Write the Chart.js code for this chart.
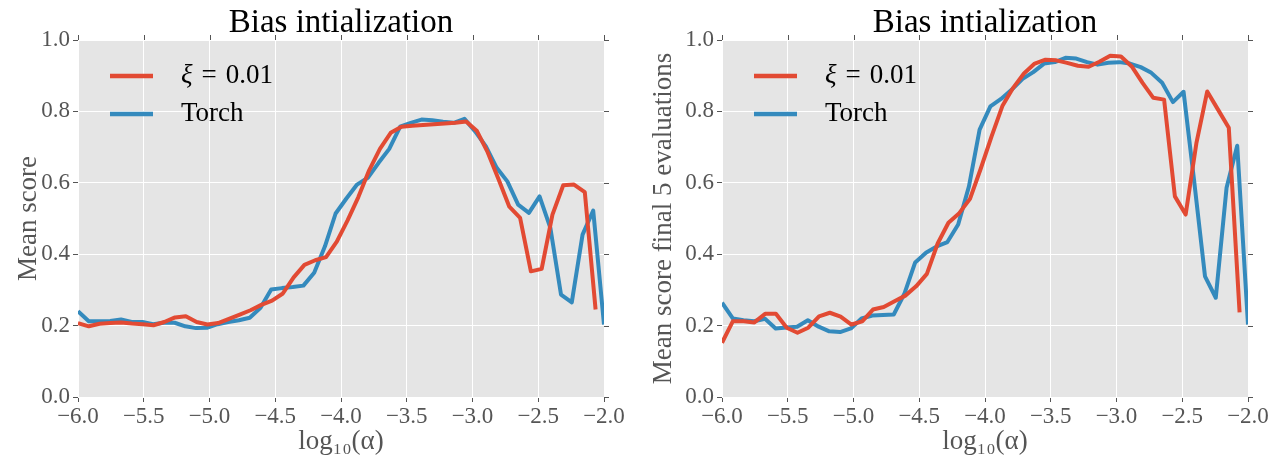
<!DOCTYPE html>
<html>
<head>
<meta charset="utf-8">
<script src="https://cdn.jsdelivr.net/npm/chart.js@4.4.0/dist/chart.umd.min.js"></script>
<style>
body { margin: 0; background: #fff; }
#wrap { position: relative; width: 1287px; height: 459px; }
.panel { position: absolute; top: 0; height: 459px; }
</style>
</head>
<body>
<div id="wrap">
  <div class="panel" style="left:0;width:640px"><canvas id="leftChart" width="640" height="459"></canvas></div>
  <div class="panel" style="left:640px;width:647px"><canvas id="rightChart" width="647" height="459"></canvas></div>
</div>
<script>
// x grid of the Torch runs (50 points, -6 .. -2)
var torchAlpha = [-6.000, -5.918, -5.837, -5.755, -5.673, -5.592, -5.510, -5.429, -5.347, -5.265,
    -5.184, -5.102, -5.020, -4.939, -4.857, -4.776, -4.694, -4.612, -4.531, -4.449,
    -4.367, -4.286, -4.204, -4.122, -4.041, -3.959, -3.878, -3.796, -3.714, -3.633,
    -3.551, -3.469, -3.388, -3.306, -3.224, -3.143, -3.061, -2.980, -2.898, -2.816,
    -2.735, -2.653, -2.571, -2.490, -2.408, -2.327, -2.245, -2.163, -2.082, -2.000];

// x grid of the xi = 0.01 runs (49 points, stops before -2)
var xiAlpha = [-6.000, -5.918, -5.836, -5.754, -5.672, -5.590, -5.508, -5.426, -5.344, -5.262,
    -5.180, -5.098, -5.016, -4.934, -4.852, -4.770, -4.688, -4.606, -4.524, -4.442,
    -4.360, -4.278, -4.196, -4.114, -4.032, -3.950, -3.868, -3.786, -3.704, -3.622,
    -3.540, -3.458, -3.376, -3.294, -3.212, -3.130, -3.048, -2.966, -2.884, -2.802,
    -2.720, -2.638, -2.556, -2.474, -2.392, -2.310, -2.228, -2.146, -2.064];

var xTicks = [-6.0, -5.5, -5.0, -4.5, -4.0, -3.5, -3.0, -2.5, -2.0];
var yTicks = [0.0, 0.2, 0.4, 0.6, 0.8, 1.0];

// left panel: mean score
var meanXi = [0.207, 0.198, 0.205, 0.207, 0.209, 0.206, 0.204, 0.201, 0.210, 0.223,
    0.226, 0.210, 0.203, 0.207, 0.219, 0.231, 0.243, 0.258, 0.270, 0.290,
    0.335, 0.370, 0.383, 0.392, 0.435, 0.495, 0.560, 0.635, 0.695, 0.740,
    0.757, 0.760, 0.762, 0.764, 0.766, 0.768, 0.772, 0.745, 0.685, 0.610,
    0.533, 0.502, 0.352, 0.359, 0.511, 0.593, 0.595, 0.574, 0.245];
var meanTorch = [0.240, 0.212, 0.212, 0.213, 0.217, 0.210, 0.210, 0.204, 0.208, 0.208,
    0.198, 0.193, 0.194, 0.204, 0.210, 0.215, 0.222, 0.250, 0.301, 0.305,
    0.308, 0.312, 0.348, 0.422, 0.514, 0.556, 0.595, 0.614, 0.656, 0.695,
    0.757, 0.768, 0.777, 0.775, 0.771, 0.768, 0.779, 0.744, 0.702, 0.642,
    0.604, 0.539, 0.516, 0.562, 0.474, 0.287, 0.265, 0.455, 0.522, 0.203];

// right panel: mean score over the final 5 evaluations
var finalXi = [0.152, 0.212, 0.212, 0.209, 0.233, 0.233, 0.194, 0.180, 0.194, 0.226,
    0.236, 0.225, 0.203, 0.212, 0.245, 0.252, 0.268, 0.284, 0.310, 0.345,
    0.430, 0.488, 0.515, 0.555, 0.640, 0.730, 0.815, 0.866, 0.906, 0.934,
    0.945, 0.943, 0.936, 0.928, 0.925, 0.939, 0.956, 0.954, 0.926, 0.880,
    0.838, 0.833, 0.562, 0.511, 0.712, 0.856, 0.805, 0.754, 0.237];
var finalTorch = [0.264, 0.220, 0.215, 0.212, 0.219, 0.192, 0.195, 0.197, 0.215, 0.197,
    0.184, 0.182, 0.192, 0.220, 0.228, 0.230, 0.231, 0.290, 0.377, 0.404,
    0.422, 0.434, 0.483, 0.590, 0.749, 0.814, 0.835, 0.861, 0.891, 0.910,
    0.934, 0.938, 0.950, 0.948, 0.938, 0.931, 0.936, 0.938, 0.934, 0.924,
    0.908, 0.880, 0.826, 0.855, 0.600, 0.338, 0.278, 0.586, 0.704, 0.203];

var RED = '#E24A33';
var BLUE = '#348ABD';
var SERIF = "'Liberation Serif', 'DejaVu Serif', serif";
var GREY = '#555555';

function pairUp(xs, ys) {
    return xs.map(function(x, i) { return { x: x, y: ys[i] }; });
}

function tickText(v) {
    return (v < 0 ? '\u2212' : '') + Math.abs(v).toFixed(1);
}

// grey panel, outer ticks on top/right, title and in-plot legend
var panelDecor = {
    id: 'panelDecor',
    beforeDraw: function(chart) {
        var a = chart.chartArea, ctx = chart.ctx;
        ctx.save();
        ctx.fillStyle = '#E5E5E5';
        ctx.fillRect(a.left, a.top, a.right - a.left, a.bottom - a.top);
        ctx.restore();
    },
    afterDraw: function(chart, args, opts) {
        var a = chart.chartArea, ctx = chart.ctx;
        var xs = chart.scales.x, ys = chart.scales.y;
        ctx.save();
        ctx.strokeStyle = GREY;
        ctx.lineWidth = 1;
        xTicks.forEach(function(v) {
            var px = Math.round(xs.getPixelForValue(v)) + 0.5;
            ctx.beginPath(); ctx.moveTo(px, a.top); ctx.lineTo(px, a.top - 5); ctx.stroke();
        });
        yTicks.forEach(function(v) {
            var py = Math.round(ys.getPixelForValue(v)) + 0.5;
            ctx.beginPath(); ctx.moveTo(a.right, py); ctx.lineTo(a.right + 5, py); ctx.stroke();
        });

        ctx.fillStyle = '#000';
        ctx.font = '33px ' + SERIF;
        ctx.textAlign = 'center';
        ctx.textBaseline = 'middle';
        ctx.fillText(opts.title, (a.left + a.right) / 2, 23);

        ctx.textAlign = 'left';
        chart.data.datasets.forEach(function(d, i) {
            var y = a.top + 36 + i * 38;
            ctx.strokeStyle = d.borderColor;
            ctx.lineWidth = 4.5;
            ctx.beginPath(); ctx.moveTo(a.left + 32, y); ctx.lineTo(a.left + 75, y); ctx.stroke();
            ctx.fillStyle = '#000';
            var tx = a.left + 103;
            if (d.label.charAt(0) == '\u03BE') {
                // math-style spacing: italic xi, wide gaps round "="
                var parts = d.label.split(' ');
                ctx.font = 'italic 27px ' + SERIF;
                ctx.fillText(parts[0], tx, y);
                tx += ctx.measureText(parts[0]).width + 9;
                ctx.font = '27px ' + SERIF;
                ctx.fillText(parts[1], tx, y);
                tx += ctx.measureText(parts[1]).width + 9;
                ctx.fillText(parts[2], tx, y);
            } else {
                ctx.font = '27px ' + SERIF;
                ctx.fillText(d.label, tx, y);
            }
        });
        ctx.restore();
    }
};

function makePanel(canvasId, yTitle, xiData, torchData, axisWidth, padTop, padRight) {
    return new Chart(document.getElementById(canvasId), {
        type: 'line',
        data: {
            datasets: [{
                label: '\u03BE = 0.01',
                data: pairUp(xiAlpha, xiData),
                borderColor: RED,
                borderWidth: 4,
                pointRadius: 0,
                borderCapStyle: 'butt',
                borderJoinStyle: 'round',
                tension: 0
            }, {
                label: 'Torch',
                data: pairUp(torchAlpha, torchData),
                borderColor: BLUE,
                borderWidth: 4,
                pointRadius: 0,
                borderCapStyle: 'butt',
                borderJoinStyle: 'round',
                tension: 0
            }]
        },
        options: {
            responsive: false,
            animation: false,
            events: [],
            layout: { padding: { left: 0, top: 40, right: padRight, bottom: 0 } },
            plugins: {
                legend: { display: false },
                tooltip: { enabled: false },
                panelDecor: { title: 'Bias intialization' }
            },
            scales: {
                x: {
                    type: 'linear',
                    min: -6,
                    max: -2,
                    afterBuildTicks: function(s) { s.ticks = xTicks.map(function(v) { return { value: v }; }); },
                    afterFit: function(s) { s.height = 62; },
                    border: { display: false },
                    grid: { color: '#FFFFFF', lineWidth: 1, tickColor: GREY, tickLength: 5 },
                    ticks: { color: GREY, padding: 1, maxRotation: 0, font: { family: SERIF, size: 23 }, callback: tickText },
                    title: { display: true, text: 'log\u2081\u2080(\u03B1)', color: GREY, padding: { top: 0, bottom: 1 }, font: { family: SERIF, size: 27 } }
                },
                y: {
                    min: 0,
                    max: 1,
                    afterBuildTicks: function(s) { s.ticks = yTicks.map(function(v) { return { value: v }; }); },
                    afterFit: function(s) { s.width = axisWidth; },
                    border: { display: false },
                    grid: { color: '#FFFFFF', lineWidth: 1, tickColor: GREY, tickLength: 5 },
                    ticks: { color: GREY, padding: 3, font: { family: SERIF, size: 23 }, callback: tickText },
                    title: { display: true, text: yTitle, color: GREY, padding: { top: padTop, bottom: 0 }, font: { family: SERIF, size: 27 } }
                }
            }
        },
        plugins: [panelDecor]
    });
}

makePanel('leftChart', 'Mean score', meanXi, meanTorch, 78, 13, 36);
makePanel('rightChart', 'Mean score final 5 evaluations', finalXi, finalTorch, 82, 8, 39);
</script>
</body>
</html>
